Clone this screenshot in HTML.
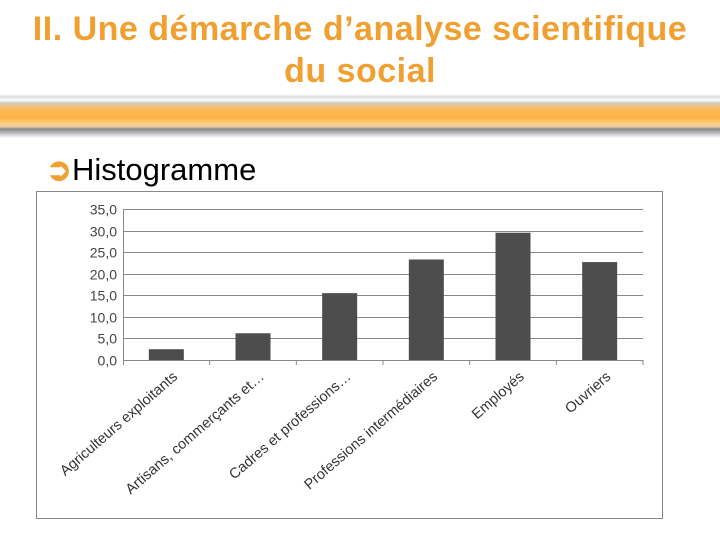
<!DOCTYPE html>
<html><head><meta charset="utf-8"><style>
body{margin:0;width:720px;height:540px;background:#fff;position:relative;overflow:hidden;font-family:"Liberation Sans",sans-serif}
#title{position:absolute;left:0;top:8px;width:720px;text-align:center;color:#f0a030;font-weight:bold;font-size:34px;line-height:42px;letter-spacing:0.5px}
#band{position:absolute;left:0;top:94px;width:720px;height:44px}
#sub{position:absolute;left:46px;top:152px;font-size:31px;color:#000}
#sub span{color:#f0a030;font-weight:bold}
</style></head><body>
<div id="title">II. Une démarche d’analyse scientifique<br>du social</div>
<div id="band" style="background:linear-gradient(#fff 0px,#ddd 3px,#fff 6px,#ccc 9px,#f6c080 12px,#fbb850 17px,#fcb446 24px,#ffd08a 30px,#e0c8a0 33px,#888 35px,#bbb 39px,#fff 44px)"></div>
<div id="sub"><span>➲</span>Histogramme</div>
<svg id="chart" width="720" height="540" style="position:absolute;left:0;top:0">
<rect x="36.5" y="191.5" width="626" height="327" fill="none" stroke="#888"/>
</svg>
<script>
const categories=["Agriculteurs exploitants","Artisans, commerçants et…","Cadres et  professions…","Professions intermédiaires","Employés","Ouvriers"];
const values=[2.5,6.2,15.5,23.3,29.5,22.7];
const ticks=["0,0","5,0","10,0","15,0","20,0","25,0","30,0","35,0"];
const svg=document.getElementById('chart');const NS="http://www.w3.org/2000/svg";
const x0=123,x1=643,y0=360,yTop=209,vmax=35;
const y=v=>y0-(v/vmax)*(y0-yTop);
const bw=(x1-x0)/categories.length;
function el(t,a,p){const e=document.createElementNS(NS,t);for(const k in a)e.setAttribute(k,a[k]);(p||svg).appendChild(e);return e;}
ticks.forEach((t,i)=>{const v=i*5;const yy=Math.round(y(v))+0.5;
 if(v>0){const g=el('line',{x1:x0,x2:x1,y1:yy,y2:yy,stroke:'#888','stroke-width':1});
 
 }
 const tx=el('text',{x:x0-6,y:yy+5,'text-anchor':'end','font-size':14,fill:'#444'});tx.textContent=t;
 
 });
const ax=el('line',{x1:x0+0.5,x2:x0+0.5,y1:yTop,y2:y0+5,stroke:'#888'});


const bx=el('line',{x1:x0,x2:x1,y1:y0+0.5,y2:y0+0.5,stroke:'#888'});


categories.forEach((c,i)=>{
 const cx=x0+bw*(i+0.5);
 const r=el('rect',{x:cx-17.5,y:y(values[i]),width:35,height:y0-y(values[i]),fill:'#4d4d4d'});
 
 
 const tk=el('line',{x1:x0+bw*(i+1),x2:x0+bw*(i+1),y1:y0,y2:y0+5,stroke:'#888'});
 
 
 const t=el('text',{x:0,y:0,'text-anchor':'end','font-size':14.5,fill:'#333',transform:`translate(${cx+12},${y0+18}) rotate(-41)`});
 t.textContent=c;
 
 
});
</script>
</body></html>
